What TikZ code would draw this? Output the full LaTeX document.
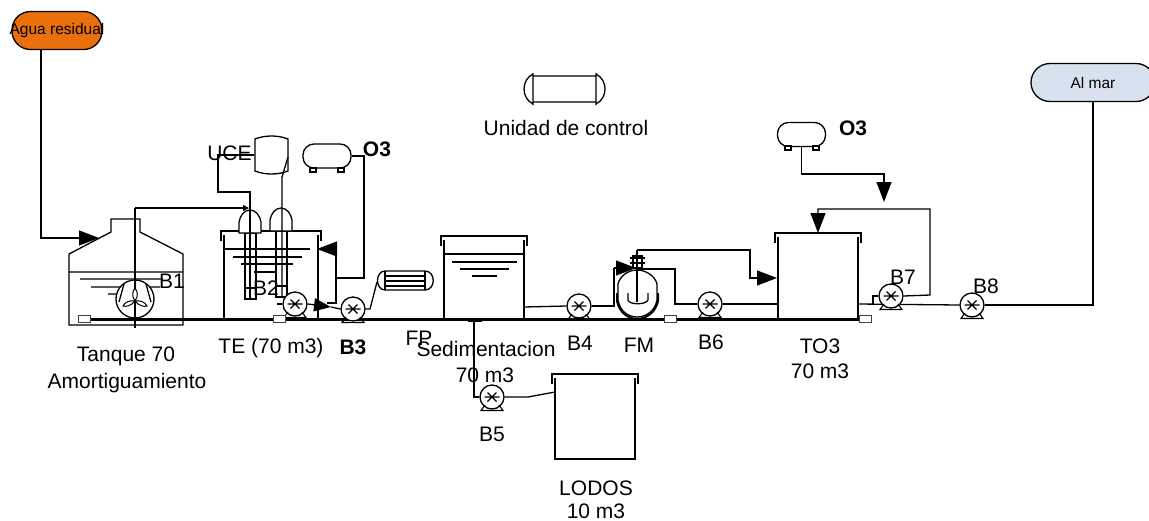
\documentclass[tikz,border=0pt]{standalone}
\usepackage{fontspec}
\setmainfont{Liberation Sans}
\usetikzlibrary{arrows.meta}
\tikzset{
    lbl/.style={inner sep=0pt,text height=15pt,text depth=0pt,font=\fontsize{21}{23}\selectfont},
    lblb/.style={lbl,font=\fontsize{21}{23}\selectfont\bfseries},
    flow/.style={-{Triangle[length=20pt,width=15pt]}},
    terminal/.style={draw,line width=1.3pt,rounded corners=18.5pt,inner sep=0pt,minimum height=38pt,font=\fontsize{15.5}{17}\selectfont},
    pumpbody/.style={draw,circle,fill=white,line width=1.3pt,inner sep=0pt,minimum size=24pt},
    gastank/.style={draw,fill=white,line width=1.3pt,rounded corners=11pt,inner sep=0pt,minimum width=48pt,minimum height=24pt},
    slab/.style={draw=black!75,fill=white,line width=1pt,inner sep=0pt,minimum width=12pt,minimum height=7pt}
}
\definecolor{residual}{HTML}{E9700C}
\definecolor{sea}{HTML}{D8E1EE}
\newcommand{\pump}[2]{
    \node[pumpbody] (#1) at (#2) {};
    \draw[line width=1.1pt] ([shift={(-7,8)}]#1.center) -- ([shift={(-11,13.5)}]#1.center) -- ([shift={(11,13.5)}]#1.center) -- ([shift={(7,8)}]#1.center);
    \draw[line width=1.3pt]
    ([shift={(-7.5,0)}]#1.center) -- ([shift={(7.5,0)}]#1.center)
    ([shift={(-4.5,-4.5)}]#1.center) -- ([shift={(4.5,4.5)}]#1.center)
    ([shift={(-4.5,4.5)}]#1.center) -- ([shift={(4.5,-4.5)}]#1.center);
}
\newcommand{\tank}[4]{
    \draw[line width=1.3pt] ({#1-3},{#2+10}) -- ({#1-3},#2) -- ({#3+3},#2) -- ({#3+3},{#2+10});
    \draw[line width=1.3pt] (#1,{#2+4}) -- (#1,#4) -- (#3,#4) -- (#3,{#2+4});
}
\newcommand{\dome}[2]{
    \draw[line width=1.3pt,fill=white] ({#1-11},#2) -- ({#1-11},{#2-11}) .. controls ({#1-10},{#2-17}) and ({#1-6},{#2-23}) .. (#1,{#2-23}) .. controls ({#1+6},{#2-23}) and ({#1+10},{#2-17}) .. ({#1+11},{#2-11}) -- ({#1+11},#2) -- cycle;
}
\begin{document}
\begin{tikzpicture}[x=1pt,y=-1pt,line width=1.3pt]
    \useasboundingbox (0,0) rectangle (1149,520);
    \clip (0,0) rectangle (1149,520);
    % floor
    \draw[line width=3pt] (90,319) -- (860,319);
    % terminals and named junctions
    \node[terminal,fill=residual,minimum width=90pt] (agua) at (57,30.5) {\makebox[0pt][c]{Agua residual}};
    \node[terminal,fill=sea,minimum width=124pt,rounded corners=19pt] (mar) at (1093,82.5) {Al mar};
    \coordinate (inlet) at (99,238);
    \coordinate (inbend) at (41,238);
    % tanque
    \draw
    (69,325) -- (69,254) -- (111,232) -- (111,219) -- (140,219) -- (140,232) -- (183,254) -- (183,325) -- cycle
    (69,272) -- (183,272)
    (80,279) -- (163,279)
    (91,287) -- (160,287)
    (108,294) -- (147,294)
    ;
    \draw[flow] (agua.south -| inbend) -- (inbend) -- (inlet);
    \draw[fill=white] (135,299) circle (19);
    \draw
    (124,284) -- (119,302)
    (146,284) -- (151,302)
    ;
    \draw (135,208) -- (135,328);
    \draw[line width=1pt,fill=white]
    (135,301) .. controls (131,296) and (133,289) .. (135,289) .. controls (137,289) and (139,296) .. (135,301)
    (135,301) .. controls (131,306) and (126,307) .. (123,306) .. controls (125,302) and (130,300) .. (135,301)
    (135,301) .. controls (139,306) and (144,307) .. (147,306) .. controls (145,302) and (140,300) .. (135,301)
    ;
    % TE
    \tank{224}{231}{318}{319}
    \draw
    (224,249) -- (310,249)
    (233,257) -- (302,257)
    (241,264) -- (293,264)
    (254,272) -- (277,272)
    ;
    \draw (245,233) rectangle (256,298);
    \draw (276,231) rectangle (287,296);
    \draw[fill=white] (245,288) rectangle (256,299);
    \draw[fill=white] (276,286) rectangle (287,297);
    \dome{250}{233}
    \dome{281}{231}
    % UCE and gas feed
    \node[inner sep=0pt,minimum width=33pt,minimum height=37pt] (uce) at (271.5,155) {};
    \draw[fill=white]
    (255,139) .. controls (265,135) and (278,135) .. (288,139) -- (288,171) .. controls (278,175) and (265,175) .. (255,171) -- cycle
    ;
    \coordinate (ucebend) at (218,155);
    \coordinate (ucea) at (218,192);
    \coordinate (uceb) at (250,192);
    \coordinate (ucec) at (288,157);
    \coordinate (uced) at (282,177);
    \draw (uce.west |- ucebend) -- (ucebend) -- (ucea) -- (uceb) -- (250,298);
    \draw (ucec) -- (uced) -- (282,296);
    \coordinate (tanktop) at (135,208);
    \draw[-{Triangle[length=6pt,width=6pt]}] (tanktop) -- (249,208);
    \node[gastank] (ozone) at (327,156) {};
    \draw[fill=white]
    (310,168) rectangle (316,172)
    (338,168) rectangle (344,172)
    ;
    \coordinate (ozonea) at (364,156);
    \coordinate (ozoneb) at (364,278);
    \coordinate (ozonec) at (336,278);
    \draw (ozone.east) -- (ozonea) -- (ozoneb) -- (ozonec);
    \coordinate (backa) at (336,249);
    \coordinate (backb) at (336,303);
    \coordinate (backc) at (327,303);
    \draw (backc) -- (backb) -- (backa);
    \draw[flow] (backa) -- (317,249);
    % FP
    \draw[fill=white]
    (385,271) -- (425,271) .. controls (436,271) and (436,290) .. (425,290) -- (385,290) .. controls (375,290) and (375,271) .. (385,271)
    ;
    \draw
    (385,271) -- (385,290)
    (425,271) -- (425,290)
    (385,276) -- (425,276)
    (385,281) -- (425,281)
    (385,286) -- (425,286)
    ;
    % pumps
    \pump{bdos}{295,304}
    \pump{btres}{353,309}
    \pump{bcuatro}{579,306}
    \pump{bcinco}{492,397}
    \pump{bseis}{710,304}
    \draw (277,304) -- (bdos.west);
    \coordinate (arrowtip) at (331,307);
    \draw[-{Triangle[length=17pt,width=13pt]}] (bdos.east) -- (arrowtip);
    \draw (arrowtip) -- (btres.west);
    \coordinate (fpa) at (370,309);
    \coordinate (fpb) at (377,282);
    \draw (btres.east) -- (fpa) -- (fpb);
    % sedimentacion
    \tank{444}{236}{524}{320}
    \draw
    (444,254) -- (524,254)
    (452,262) -- (517,262)
    (460,269) -- (509,269)
    (472,276) -- (497,276)
    (463,318) -- (463,320)
    ;
    \draw[line width=2.5pt] (468,321) -- (482,321);
    \coordinate (sedout) at (524,307);
    \coordinate (sedbot) at (474,320);
    \coordinate (lodbend) at (474,397);
    \draw (sedbot) -- (lodbend) -- (bcinco.west);
    \draw (sedout) -- (bcuatro.west);
    % lodos
    \tank{555}{374}{635}{459}
    \coordinate (loda) at (528,397);
    \coordinate (lodb) at (555,392);
    \draw (bcinco.east) -- (loda) -- (lodb);
    % FM
    \draw[fill=white]
    (618,300) -- (618,284) .. controls (620,276) and (628,270) .. (637,270) .. controls (646,270) and (655,276) .. (657,284) -- (657,300) .. controls (655,311) and (646,317) .. (637,317) .. controls (628,317) and (620,311) .. (618,300) -- cycle
    ;
    \draw[line width=2pt]
    (617,293) -- (617,301) .. controls (619,312) and (628,319) .. (637,319) .. controls (646,319) and (656,312) .. (658,301) -- (658,293)
    ;
    \draw[fill=white] (633,256) rectangle (642,268);
    \draw
    (630,258) -- (645,258)
    (630,263) -- (645,263)
    ;
    \draw (628,293) -- (628,300) .. controls (629,305) and (646,305) .. (648,300) -- (648,293);
    \coordinate (fmtop) at (637,250);
    \draw (637,302) -- (fmtop);
    \coordinate (fma) at (750,250);
    \coordinate (fmb) at (750,278);
    \coordinate (toin) at (777,278);
    \draw[flow] (fmtop) -- (fma) -- (fmb) -- (toin);
    \coordinate (fmin) at (614,306);
    \coordinate (fmup) at (614,268);
    \draw (bcuatro.east) -- (fmin) -- (fmup);
    \draw[flow] (fmup) -- (636,268);
    \coordinate (fmc) at (637,269);
    \coordinate (fmd) at (675,269);
    \coordinate (fme) at (675,304);
    \draw (fmc) -- (fmd) -- (fme) -- (bseis.west);
    % TO3
    \tank{778}{233}{858}{319}
    \coordinate (towall) at (778,304);
    \draw (bseis.east) -- (towall);
    \coordinate (tolid) at (818,233);
    \coordinate (recb) at (930,209);
    \coordinate (recc) at (930,295);
    \coordinate (reca) at (818,209);
    \node[gastank] (ozonedos) at (801.5,134.5) {};
    \draw[fill=white]
    (785,146) rectangle (791,150)
    (813,146) rectangle (819,150)
    ;
    \coordinate (oza) at (801.5,174);
    \coordinate (ozb) at (884,174);
    \coordinate (ozc) at (884,202);
    \draw[flow] (ozonedos.south) -- (oza) -- (ozb) -- (ozc);
    \coordinate (towallb) at (858,304);
    \coordinate (bend) at (873,304);
    \coordinate (bendb) at (873,296);
    \pump{bocho}{972,305}
    \draw (towallb) -- (bocho.west);
    \pump{bsiete}{891,296}
    \draw (bend) -- (bendb) -- (bsiete.west);
    \draw[flow] (bsiete.east) -- (recc) -- (recb) -- (reca) -- (tolid);
    \coordinate (mara) at (1093,305);
    \draw (bocho.east) -- (mara) -- (mar.south);
    % slabs
    \node[slab] (sa) at (84,319) {};
    \node[slab] (sb) at (279,319) {};
    \node[slab] (sc) at (670,319) {};
    \node[slab] (sd) at (865,319) {};
    % unidad de control
    \draw
    (533,76) -- (596,76)
    (533,102) -- (596,102)
    (533,73) -- (533,105)
    (596,73) -- (596,105)
    (533,74) .. controls (521,80) and (521,98) .. (533,104)
    (596,74) .. controls (608,80) and (608,98) .. (596,104)
    ;
    % labels
    \node[lbl] (lcontrol) at (566,128) {Unidad de control};
    \node[lbl] (luce) at (229.5,153) {UCE};
    \node[lblb] (lozone) at (377,149) {O3};
    \node[lblb] (lozonedos) at (853,128) {O3};
    \node[lbl] (lbuno) at (172,281) {B1};
    \node[lbl] (lbdos) at (266,288) {B2};
    \node[lblb] (lbtres) at (353,347) {B3};
    \node[lbl] (lbcuatro) at (580,343) {B4};
    \node[lbl] (lbcinco) at (492,434) {B5};
    \node[lbl] (lbseis) at (711,342) {B6};
    \node[lbl] (lbsiete) at (903,277) {B7};
    \node[lbl] (lbocho) at (986,286) {B8};
    \node[lbl] (ltanque) at (126,354) {Tanque 70};
    \node[lbl] (lamort) at (127,381) {Amortiguamiento};
    \node[lbl] (lte) at (271,346) {TE (70 m3)};
    \node[lbl] (lfp) at (419,338) {FP};
    \node[lbl] (lsed) at (486,349) {Sedimentacion};
    \node[lbl] (lsedv) at (485,375) {70 m3};
    \node[lbl] (lfm) at (639,345) {FM};
    \node[lbl] (lto) at (820,346) {TO3};
    \node[lbl] (ltov) at (820,371) {70 m3};
    \node[lbl] (llodos) at (596,488) {LODOS};
    \node[lbl] (llodosv) at (596,511) {10 m3};
\end{tikzpicture}
\end{document}
